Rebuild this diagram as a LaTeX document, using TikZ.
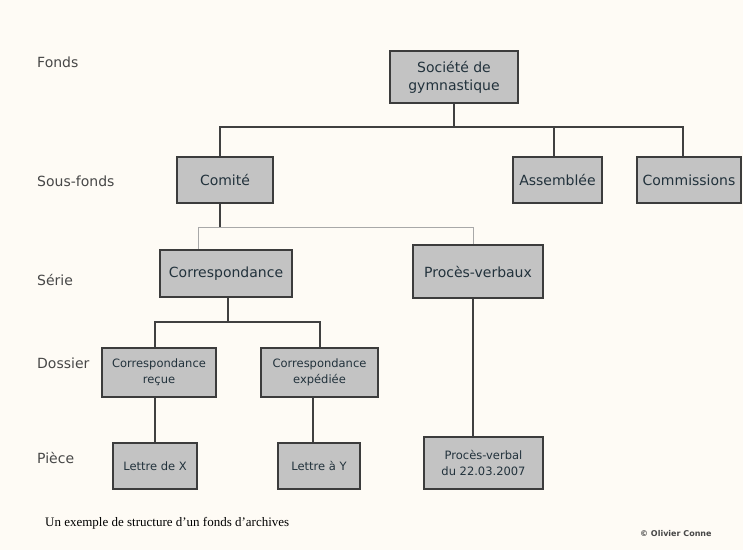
\documentclass[tikz,border=0pt]{standalone}
\usepackage{fontspec}
\setmainfont{DejaVu Sans}
\newfontfamily\capfont{Liberation Serif}
\usetikzlibrary{calc}
\definecolor{paper}{HTML}{FEFBF5}
\definecolor{boxfill}{HTML}{C3C3C3}
\definecolor{boxline}{HTML}{3C3C3C}
\definecolor{boxtext}{HTML}{22323C}
\definecolor{leveltext}{HTML}{474747}
\definecolor{wire}{HTML}{404040}
\definecolor{softwire}{HTML}{A8A8A8}
\tikzset{
  unit/.style={draw=boxline, line width=1.4pt, fill=boxfill, text=boxtext,
    inner sep=0pt, align=center, anchor=center},
  bigtxt/.style={font=\fontsize{14}{18}\selectfont},
  smalltxt/.style={font=\fontsize{11.5}{16}\selectfont},
  level/.style={anchor=west, text=leveltext, inner sep=0pt,
    font=\fontsize{14}{17}\selectfont},
  wiring/.style={draw=wire, line width=1.5pt},
  softwiring/.style={draw=softwire, line width=1pt},
}
\begin{document}
\begin{tikzpicture}[x=1pt, y=-1pt]
  % page
  \fill[paper] (0,0) rectangle (743,550);
  \useasboundingbox (0,0) rectangle (743,550);

  % level names
  \node[level] (lfonds) at (37,62) {Fonds};
  \node[level] (lsousfonds) at (37,181) {Sous-fonds};
  \node[level] (lserie) at (37,280) {Série};
  \node[level] (ldossier) at (37,363) {Dossier};
  \node[level] (lpiece) at (37,458) {Pièce};

  % units of the fonds
  \node[unit, bigtxt, minimum width=128pt, minimum height=52pt] (soc) at (454,77) {Société de\\gymnastique};
  \node[unit, bigtxt, minimum width=96pt, minimum height=46pt] (comite) at (225,180) {Comité};
  \node[unit, bigtxt, minimum width=89pt, minimum height=46pt] (assemb) at (557.5,180) {Assemblée};
  \node[unit, bigtxt, minimum width=104pt, minimum height=46pt] (commiss) at (689,180) {Commissions};
  \node[unit, bigtxt, minimum width=132pt, minimum height=47pt] (corr) at (226,273.5) {Correspondance};
  \node[unit, bigtxt, minimum width=130pt, minimum height=53pt] (pv) at (478,271.5) {Procès-verbaux};
  \node[unit, smalltxt, minimum width=114pt, minimum height=49pt] (recue) at (159,372.5) {Correspondance\\reçue};
  \node[unit, smalltxt, minimum width=117pt, minimum height=49pt] (exped) at (319.5,372.5) {Correspondance\\expédiée};
  \node[unit, smalltxt, minimum width=84pt, minimum height=46pt] (lx) at (155,466) {Lettre de X};
  \node[unit, smalltxt, minimum width=82pt, minimum height=46pt] (ly) at (319,466) {Lettre à Y};
  \node[unit, smalltxt, minimum width=119pt, minimum height=52pt] (pvd) at (483.5,463) {Procès-verbal\\du 22.03.2007};

  % bus lines
  \coordinate (busA) at (0,127);
  \coordinate (busB) at (0,227);
  \coordinate (busC) at (0,322);

  % fonds -> sous-fonds
  \draw[wiring] (soc.south) -- (soc.south |- busA);
  \draw[wiring] ([xshift=-5pt]comite.north) |- ([xshift=-6pt]commiss.north |- busA) -- ([xshift=-6pt]commiss.north);
  \draw[wiring] ([xshift=-3.5pt]assemb.north |- busA) -- ([xshift=-3.5pt]assemb.north);

  % comité -> séries
  \draw[wiring] ([xshift=-5pt]comite.south) -- ([xshift=-5pt]comite.south |- busB);
  \draw[softwiring] ([xshift=-28pt]corr.north |- busB) -- ([xshift=-5pt]pv.north |- busB);
  \draw[softwiring] ([xshift=-28pt]corr.north |- busB) -- ([xshift=-28pt]corr.north);
  \draw[softwiring] ([xshift=-5pt]pv.north |- busB) -- ([xshift=-5pt]pv.north);

  % correspondance -> dossiers
  \draw[wiring] ([xshift=2pt]corr.south) -- ([xshift=2pt]corr.south |- busC);
  \draw[wiring] ([xshift=-4pt]recue.north) |- ([xshift=0.5pt]exped.north |- busC) -- ([xshift=0.5pt]exped.north);

  % dossiers -> pièces
  \draw[wiring] (lx.north) -- (lx.north |- recue.south);
  \draw[wiring] ([xshift=-6pt]ly.north) -- ([xshift=-6pt]ly.north |- exped.south);
  \draw[wiring] ([xshift=-10.5pt]pvd.north) -- ([xshift=-10.5pt]pvd.north |- pv.south);

  % caption and credit
  \node[anchor=base west, inner sep=0pt, text=black, font=\capfont\fontsize{13}{15}\selectfont] (caption) at (45,526) {Un exemple de structure d’un fonds d’archives};
  \node[anchor=base west, inner sep=0pt, text=leveltext, font=\fontsize{8}{9}\selectfont\bfseries] (credit) at (640,536) {© Olivier Conne};
\end{tikzpicture}
\end{document}
